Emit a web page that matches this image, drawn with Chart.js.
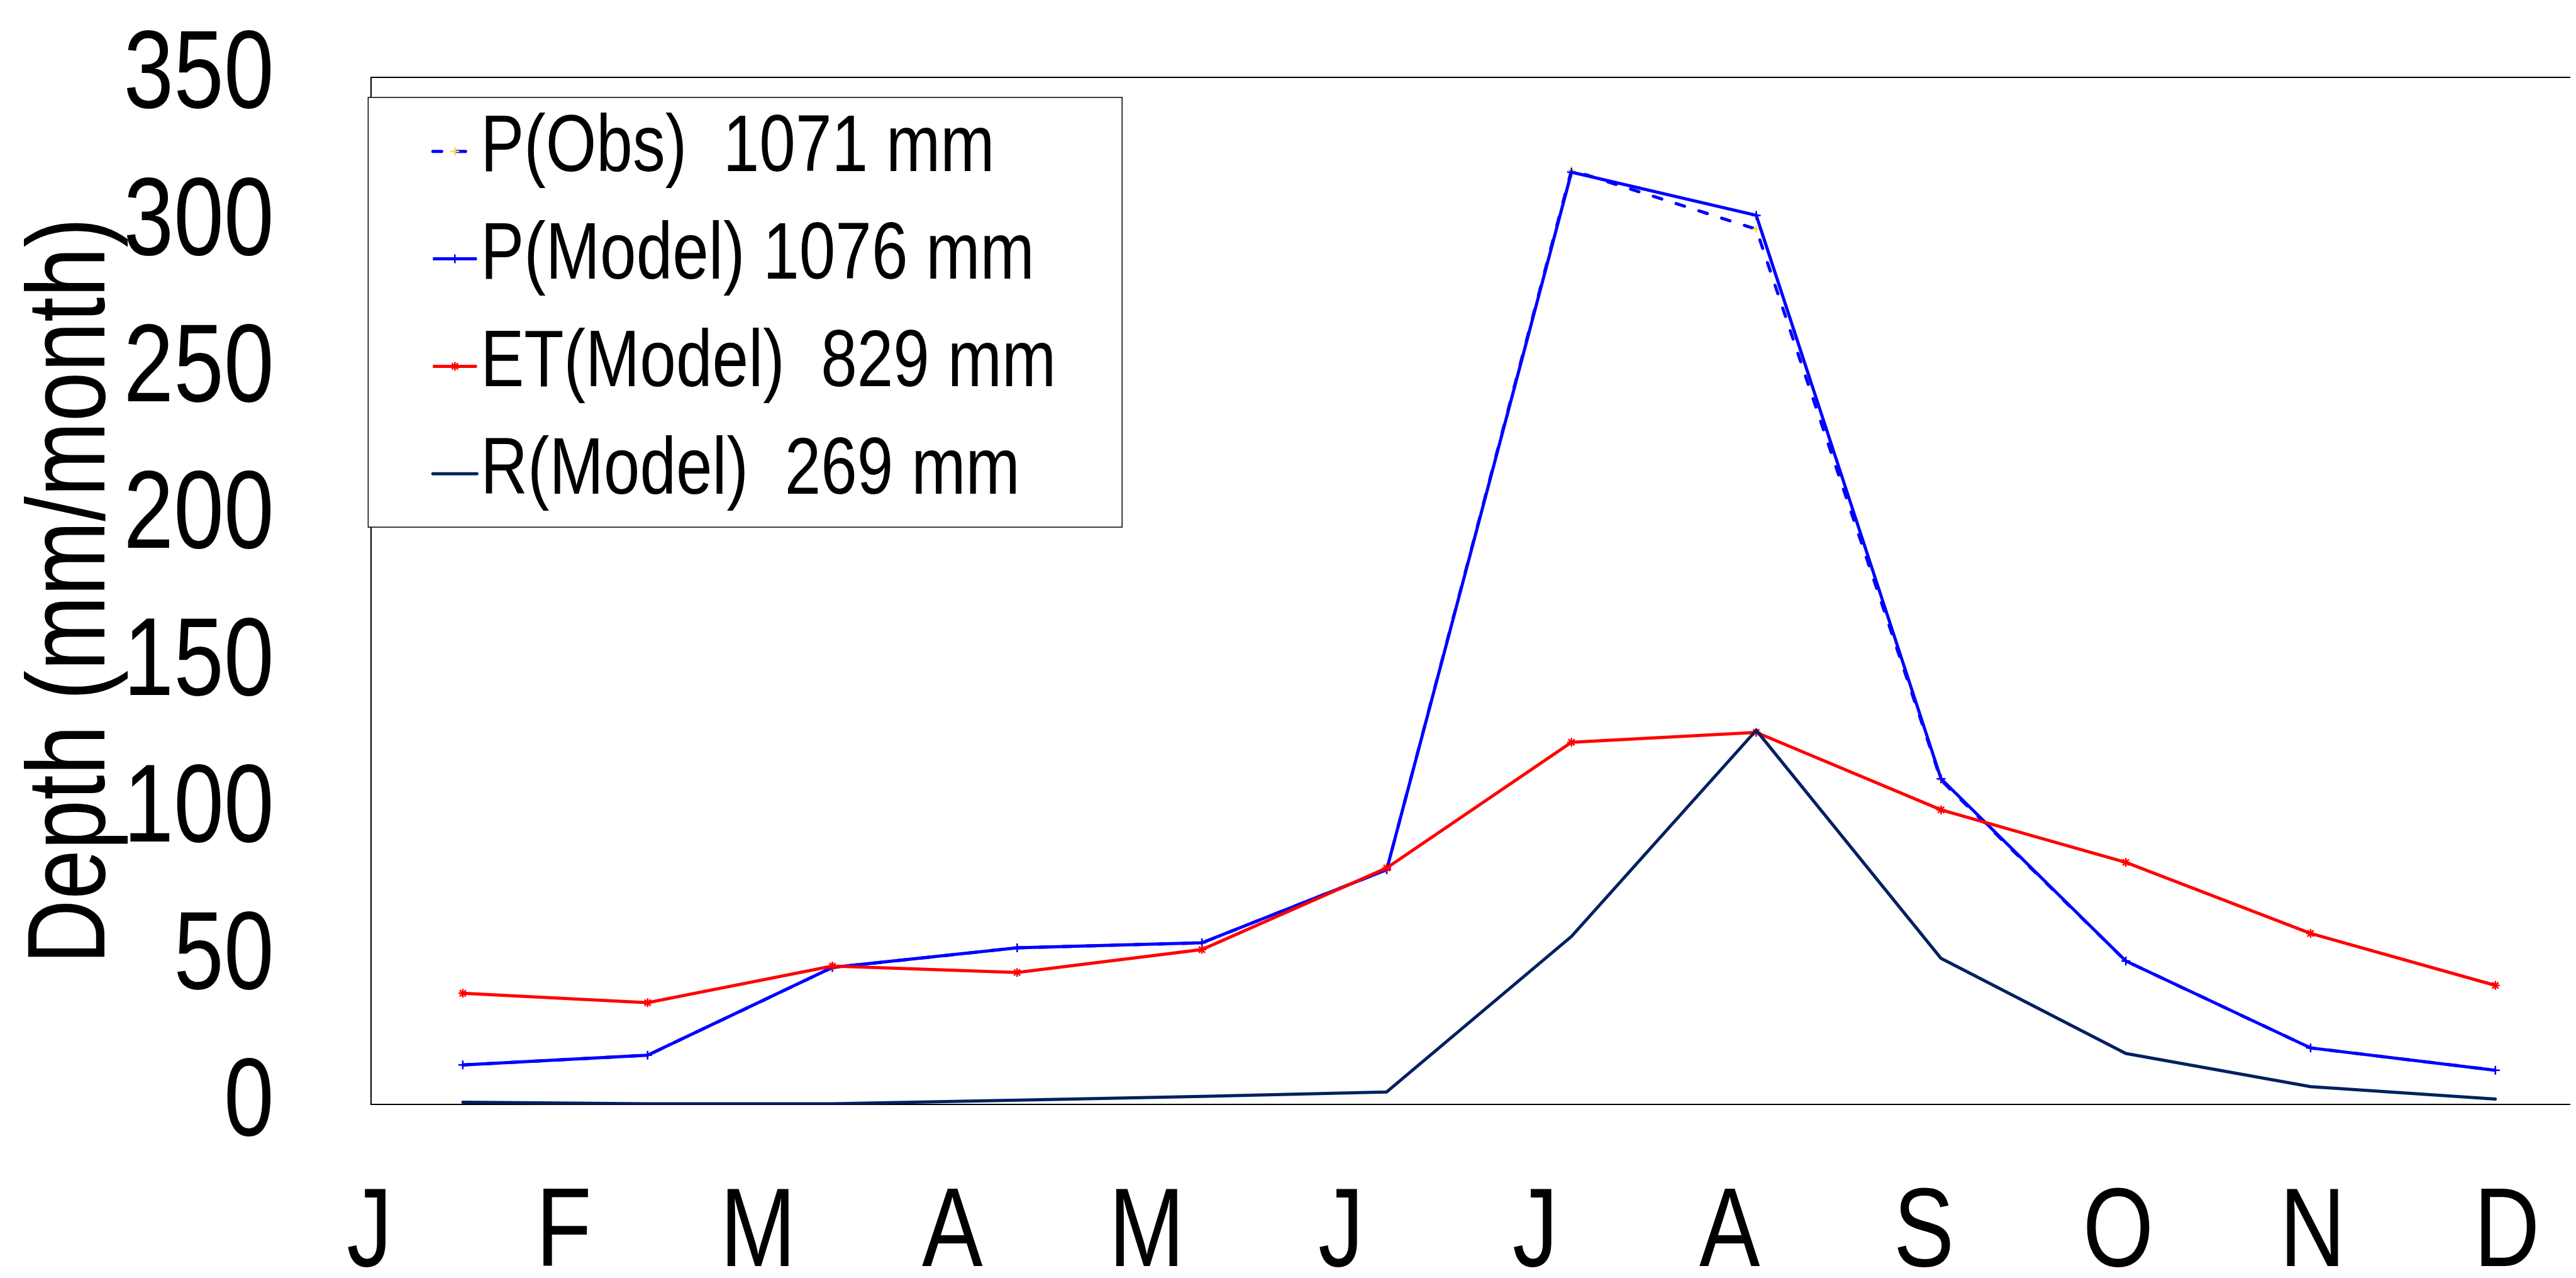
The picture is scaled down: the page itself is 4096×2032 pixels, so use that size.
<!DOCTYPE html>
<html>
<head>
<meta charset="utf-8">
<title>Depth (mm/month)</title>
<script src="https://cdn.jsdelivr.net/npm/chart.js@4.4.0/dist/chart.umd.min.js"></script>
<style>
  html, body { margin:0; padding:0; background:#fff; overflow:hidden; }
  canvas { display:block; }
</style>
</head>
<body>
<canvas id="chart" width="4096" height="2032"></canvas>
<script>
// Monthly water balance
const monthLabels = ["J","F","M","A","M","J","J","A","S","O","N","D"];
const monthNo = [1,2,3,4,5,6,7,8,9,10,11,12];
const pObs   = [13.5, 16.8, 46.7, 53.4, 55.1, 80.0, 318.3, 298.2, 110.5, 48.9, 19.3, 11.7];
const pModel = [13.5, 16.8, 46.7, 53.4, 55.1, 80.0, 317.6, 302.9, 111.0, 48.9, 19.3, 11.7];
const etModel = [37.9, 34.7, 47.2, 45.0, 52.8, 80.6, 123.4, 126.8, 100.4, 82.5, 58.3, 40.6];
const rModel = [0.8, 0.3, 0.3, 1.5, 2.8, 4.3, 57.3, 127.5, 49.8, 17.4, 6.1, 1.9];
const seriesNames = ["P(Obs)  1071 mm", "P(Model) 1076 mm", "ET(Model)  829 mm", "R(Model)  269 mm"];
const yTicks = [0,50,100,150,200,250,300,350];

const S = 0.999;      // reference -> window
const NARROW = 0.81;  // the figure uses a condensed face; no narrow font here, so squeeze text
const FONT = "'Liberation Sans', Arial, sans-serif";

function pts(arr){ return arr.map((v,i)=>({x: monthNo[i], y: v})); }

// squeeze every text run horizontally around its anchor
const narrowText = {
  id: "narrowText",
  beforeInit(chart){
    const ctx = chart.ctx;
    const fill = ctx.fillText;
    ctx.fillText = function(text, x, y, maxWidth){
      this.save();
      this.translate(x, y);
      this.scale(NARROW, 1);
      if (maxWidth === undefined) fill.call(this, text, 0, 0);
      else fill.call(this, text, 0, 0, maxWidth / NARROW);
      this.restore();
    };
  }
};

// small marker helper for the legend
function marker(ctx, style, x, y, r){
  ctx.beginPath();
  ctx.moveTo(x, y-r); ctx.lineTo(x, y+r);
  ctx.moveTo(x-r, y); ctx.lineTo(x+r, y);
  if (style === "star"){
    const d = r*Math.SQRT1_2;
    ctx.moveTo(x-d, y-d); ctx.lineTo(x+d, y+d);
    ctx.moveTo(x-d, y+d); ctx.lineTo(x+d, y-d);
  }
  ctx.stroke();
}

// framed legend in the upper left of the plot
const boxLegend = {
  id: "boxLegend",
  afterDraw(chart){
    const ctx = chart.ctx;
    const L = {left:586, top:155, right:1786, bottom:839, row0:241, gap:171, lx0:689, lx1:759, tx:765};
    ctx.save();
    ctx.fillStyle = "#fff";
    ctx.fillRect(L.left*S, L.top*S, (L.right-L.left)*S, (L.bottom-L.top)*S);
    ctx.lineWidth = 1.5;
    ctx.strokeStyle = "#000";
    ctx.strokeRect(L.left*S, L.top*S, (L.right-L.left)*S, (L.bottom-L.top)*S);
    chart.data.datasets.forEach((ds, i)=>{
      const y = (L.row0 + i*L.gap)*S;
      ctx.setLineDash(ds.borderDash || []);
      ctx.lineCap = ds.borderCapStyle || "butt";
      ctx.strokeStyle = ds.borderColor;
      ctx.lineWidth = ds.borderWidth;
      ctx.beginPath(); ctx.moveTo(L.lx0*S, y); ctx.lineTo(L.lx1*S, y); ctx.stroke();
      ctx.setLineDash([]);
      if (ds.pointRadius){
        ctx.strokeStyle = ds.pointBorderColor;
        ctx.lineWidth = ds.pointBorderWidth;
        marker(ctx, ds.pointStyle, (L.lx0+L.lx1)/2*S, y, ds.pointRadius);
      }
      ctx.fillStyle = "#000";
      ctx.font = (128*S) + "px " + FONT;
      ctx.textAlign = "left";
      ctx.textBaseline = "middle";
      ctx.fillText(ds.label, L.tx*S, y - 4*S);
    });
    ctx.restore();
  }
};

function noPad(s){ s.paddingTop = 0; s.paddingBottom = 0; s.paddingLeft = 0; s.paddingRight = 0; }

Chart.defaults.font.family = FONT;
Chart.defaults.color = "#000";

new Chart(document.getElementById("chart").getContext("2d"), {
  type: "line",
  data: {
    datasets: [
      { label: seriesNames[0], data: pts(pObs), order: 3, xAxisID: "x",
        borderColor: "#0000ff", borderWidth: 5, borderDash: [14, 24], borderCapStyle: "round",
        pointStyle: "cross", pointRadius: 6, pointBorderColor: "#ffd84a", pointBorderWidth: 2.5 },
      { label: seriesNames[1], data: pts(pModel), order: 2, xAxisID: "x",
        borderColor: "#0000ff", borderWidth: 5,
        pointStyle: "cross", pointRadius: 7, pointBorderColor: "#0000ff", pointBorderWidth: 2.5 },
      { label: seriesNames[2], data: pts(etModel), order: 1, xAxisID: "x",
        borderColor: "#ff0000", borderWidth: 5,
        pointStyle: "star", pointRadius: 7, pointBorderColor: "#ff0000", pointBorderWidth: 2.5 },
      { label: seriesNames[3], data: pts(rModel), order: 0, xAxisID: "x",
        borderColor: "#002060", borderWidth: 5, borderCapStyle: "round", borderJoinStyle: "round",
        pointRadius: 0 }
    ]
  },
  options: {
    responsive: false,
    animation: false,
    devicePixelRatio: 1,
    layout: { padding: { top: 122.7*S, left: 0, right: 0, bottom: 0 } },
    elements: { line: { tension: 0, fill: false }, point: { backgroundColor: "rgba(0,0,0,0)" } },
    plugins: { legend: { display: false }, tooltip: { enabled: false } },
    scales: {
      x: { type: "linear", position: "bottom", display: false, min: 0.5049, max: 12.404 },
      months: {
        type: "linear", position: "bottom", min: 0.0097, max: 11.325,
        afterBuildTicks: s => { s.ticks = monthLabels.map((m,i)=>({value:i})); },
        afterFit: s => { s.height = (2034-1758)*S; noPad(s); },
        ticks: { autoSkip: false, maxRotation: 0, padding: 100*S, font: { size: 179*S },
                 callback: v => monthLabels[v] },
        grid: { display: false, drawTicks: false },
        border: { display: true, color: "#000", width: 2 }
      },
      top: {
        type: "linear", position: "top", min: 0, max: 1,
        afterFit: s => { s.height = 0; noPad(s); },
        ticks: { display: false },
        grid: { display: false, drawTicks: false },
        border: { display: true, color: "#000", width: 2 }
      },
      y: {
        type: "linear", position: "left", min: 0, max: 350,
        afterBuildTicks: s => { s.ticks = yTicks.map(v=>({value:v})); },
        afterFit: s => { s.width = 591*S; noPad(s); },
        ticks: { autoSkip: false, padding: 155*S, font: { size: 177*S } },
        grid: { display: false, drawTicks: false },
        border: { display: true, color: "#000", width: 2 },
        title: { display: true, text: "Depth (mm/month)", font: { size: 176*S }, padding: { top: 12*S, bottom: 0 } }
      }
    }
  },
  plugins: [narrowText, boxLegend]
});
</script>
</body>
</html>
